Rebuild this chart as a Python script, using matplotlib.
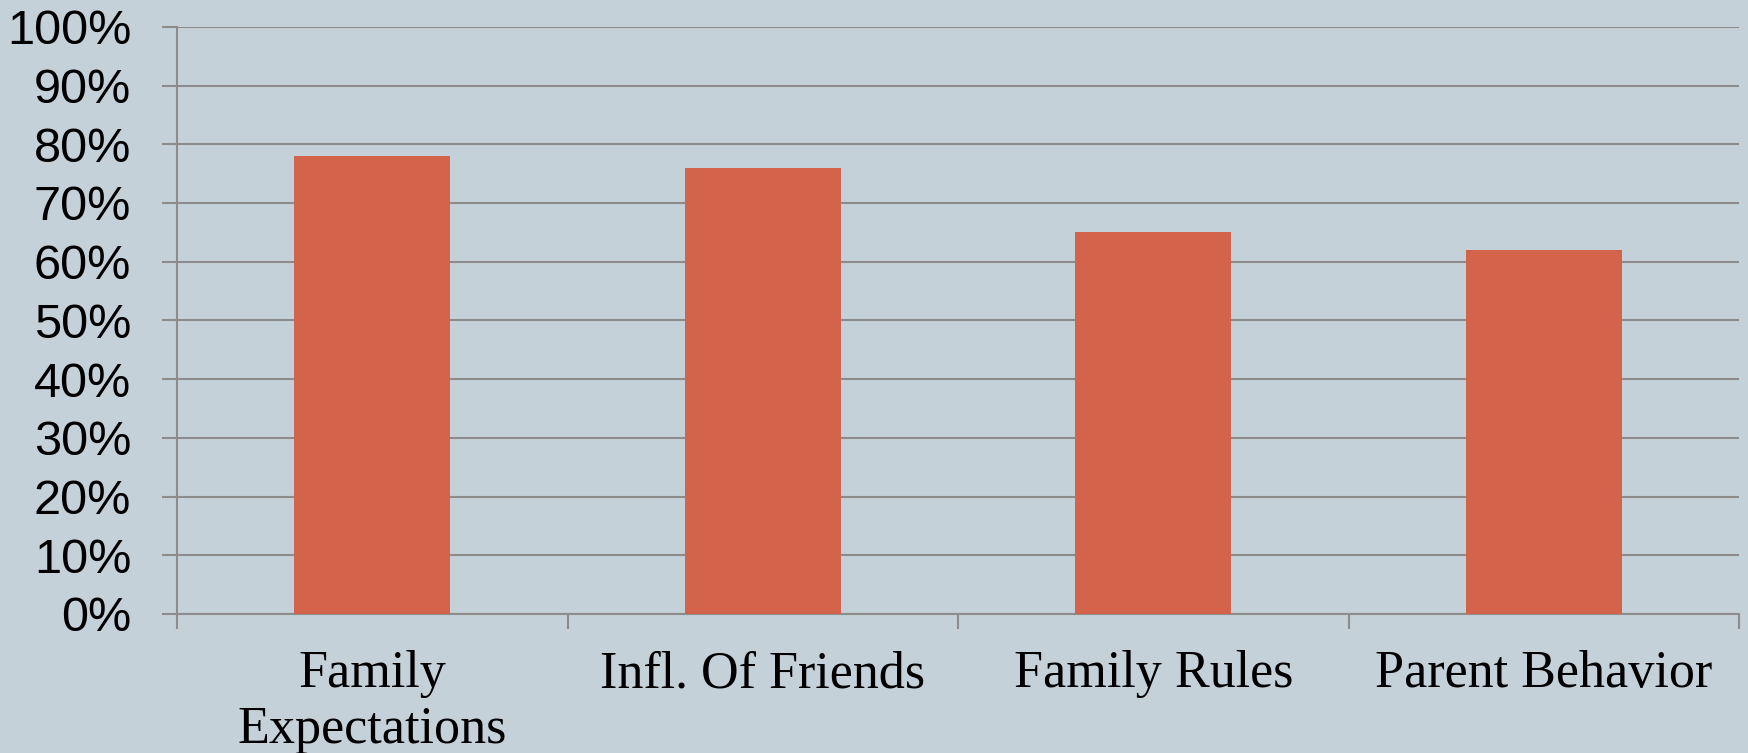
import matplotlib
matplotlib.use("Agg")
import matplotlib.pyplot as plt
import numpy as np

categories = ["Family\nExpectations", "Infl. Of Friends", "Family Rules", "Parent Behavior"]
values = [78, 76, 65, 62]
yticks = [0, 10, 20, 30, 40, 50, 60, 70, 80, 90, 100]
ytick_labels = [f"{v}%" for v in yticks]

bg = "#C5D1D8"
bar_color = "#D3644B"
grid_color = "#8C8C8C"

fig = plt.figure(figsize=(17.48, 7.53), dpi=100, facecolor=bg)
ax = fig.add_axes([0.1013, 0.1846, 0.8936, 0.7798])
ax.set_facecolor(bg)

x = np.arange(len(categories))
ax.bar(x, values, width=0.40, color=bar_color, zorder=3)

ax.set_xlim(-0.5, len(categories) - 0.5)
ax.set_ylim(0, 100)
ax.set_yticks(yticks)
ax.set_yticklabels(ytick_labels, fontsize=35, family=["Liberation Sans", "DejaVu Sans"], color="black")
ax.yaxis.grid(True, color=grid_color, linewidth=1.5, zorder=1)
ax.set_axisbelow(True)

ax.set_xticks(x)
ax.set_xticklabels(categories, fontsize=37.5, family=["Liberation Serif", "DejaVu Serif"],
                   linespacing=1.22, color="black")
ax.set_xticks(np.arange(len(categories) + 1) - 0.5, minor=True)
ax.tick_params(axis="x", which="major", length=0, pad=26)
ax.tick_params(axis="x", which="minor", length=11, width=1.5, color=grid_color)
ax.tick_params(axis="y", which="major", length=11, width=1.5, color=grid_color, pad=22)

for s in ["top", "right"]:
    ax.spines[s].set_visible(False)
for s in ["left", "bottom"]:
    ax.spines[s].set_color(grid_color)
    ax.spines[s].set_linewidth(1.5)

fig.savefig("out.png", dpi=100, facecolor=bg)
